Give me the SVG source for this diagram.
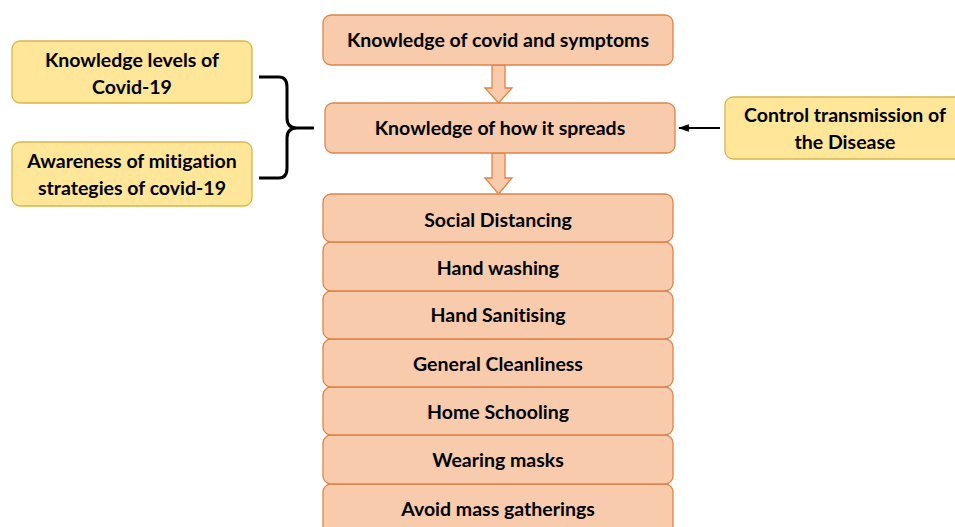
<svg xmlns="http://www.w3.org/2000/svg" width="955" height="527" viewBox="0 0 955 527">
<defs>
<style>
.o{fill:#F8CBAD;stroke:#E08448;stroke-width:1.3}
.y{fill:#FFE699;stroke:#D9B64A;stroke-width:1.3}
.t{font-family:Lato,"Open Sans","Liberation Sans",sans-serif;font-weight:bold;font-size:19.5px;fill:#000;text-anchor:middle;font-variant-ligatures:none}
.ba{fill:#F8CBAD;stroke:#E08448;stroke-width:1.3}
.ln{fill:none;stroke:#000;stroke-width:3}
</style>
<marker id="ah" viewBox="0 0 10 10" refX="9" refY="5" markerWidth="5" markerHeight="5" orient="auto-start-reverse" markerUnits="strokeWidth">
<path d="M0,1.5 L10,5 L0,8.5 z" fill="#000"/>
</marker>
</defs>
<rect width="955" height="527" fill="#fff"/>

<g id="connectors">
<path class="ba" d="M492,65 L505,65 L505,88 L512,88 L498.5,103 L485,88 L492,88 Z"/>
<path class="ba" d="M492,153 L505,153 L505,178 L512,178 L498.5,194 L485,178 L492,178 Z"/>
<path class="ln" d="M259,77 L279,77 Q287,77 287,87 L287,118 Q287,128 297,128 L314,128 M297,128 Q287,128 287,138 L287,168 Q287,178 279,178 L259,178"/>
<line x1="720" y1="128" x2="679" y2="128" stroke="#000" stroke-width="2.2" marker-end="url(#ah)"/>
</g>

<g id="n-symptoms"><rect class="o" x="323" y="15" width="350" height="50" rx="8"/><text class="t" x="498" y="47">Knowledge of covid and symptoms</text></g>
<g id="n-spreads"><rect class="o" x="325" y="103" width="350" height="50" rx="8"/><text class="t" x="500" y="135">Knowledge of how it spreads</text></g>

<g id="n-levels"><rect class="y" x="12" y="41" width="240" height="62" rx="8"/><text class="t" x="132" y="67">Knowledge levels of</text><text class="t" x="132" y="94">Covid-19</text></g>
<g id="n-awareness"><rect class="y" x="12" y="142" width="240" height="64" rx="8"/><text class="t" x="132" y="168">Awareness of mitigation</text><text class="t" x="132" y="195">strategies of covid-19</text></g>
<g id="n-control"><rect class="y" x="725" y="97" width="245" height="62" rx="8"/><text class="t" x="845" y="122">Control transmission of</text><text class="t" x="845" y="149">the Disease</text></g>

<g id="n-avoid"><rect class="o" x="323" y="484" width="350" height="50" rx="8"/><text class="t" x="498" y="516">Avoid mass gatherings</text></g>
<g id="n-masks"><rect class="o" x="323" y="435" width="350" height="49" rx="8"/><text class="t" x="498" y="467">Wearing masks</text></g>
<g id="n-home"><rect class="o" x="323" y="387" width="350" height="48" rx="8"/><text class="t" x="498" y="419">Home Schooling</text></g>
<g id="n-clean"><rect class="o" x="323" y="339" width="350" height="48" rx="8"/><text class="t" x="498" y="371">General Cleanliness</text></g>
<g id="n-sanit"><rect class="o" x="323" y="291" width="350" height="48" rx="8"/><text class="t" x="498" y="322">Hand Sanitising</text></g>
<g id="n-wash"><rect class="o" x="323" y="242" width="350" height="49" rx="8"/><text class="t" x="498" y="275">Hand washing</text></g>
<g id="n-social"><rect class="o" x="323" y="194" width="350" height="48" rx="8"/><text class="t" x="498" y="227">Social Distancing</text></g>
</svg>
